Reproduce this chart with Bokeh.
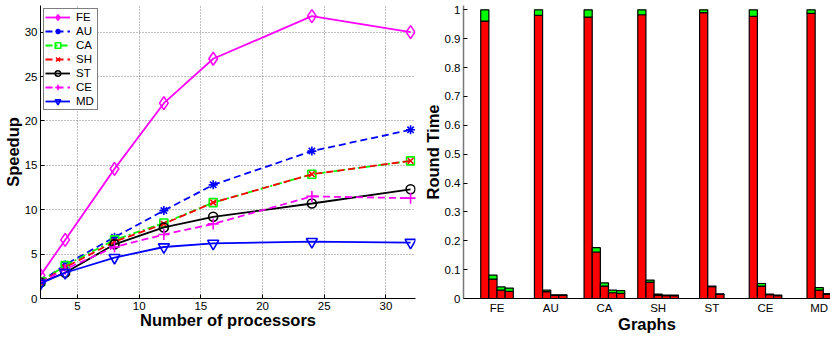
from bokeh.plotting import figure
from bokeh.layouts import row
from bokeh.models import FixedTicker, Legend, LegendItem, Label, CustomJSTickFormatter
from bokeh.embed import file_html
from bokeh.resources import INLINE

# ---------------- data: panel (a) speedup ----------------
procs = [2, 4, 8, 12, 16, 24, 32]
speedup_FE = [2.6, 6.6, 14.6, 22.0, 27.0, 31.8, 30.0]
speedup_AU = [1.9, 3.8, 6.9, 9.9, 12.8, 16.6, 19.0]
speedup_CA = [1.9, 3.7, 6.6, 8.5, 10.8, 14.0, 15.5]
speedup_SH = [1.8, 3.5, 6.4, 8.4, 10.8, 14.0, 15.5]
speedup_ST = [1.8, 2.9, 6.1, 8.0, 9.2, 10.7, 12.3]
speedup_CE = [1.8, 3.3, 5.8, 7.2, 8.4, 11.5, 11.3]
speedup_MD = [1.7, 2.9, 4.6, 5.8, 6.2, 6.4, 6.3]
x_ticks_a = [5, 10, 15, 20, 25, 30]
y_ticks_a = [0, 5, 10, 15, 20, 25, 30]

# ---------------- data: panel (b) round time ----------------
graphs = ["FE", "AU", "CA", "SH", "ST", "CE", "MD"]
red_FE = [0.961, 0.067, 0.029, 0.025]
green_FE = [0.039, 0.014, 0.011, 0.011]
red_AU = [0.981, 0.024, 0.011, 0.011]
green_AU = [0.019, 0.005, 0.002, 0.002]
red_CA = [0.975, 0.161, 0.043, 0.020, 0.018]
green_CA = [0.025, 0.015, 0.011, 0.009, 0.009]
red_SH = [0.983, 0.057, 0.012, 0.010, 0.010]
green_SH = [0.017, 0.007, 0.003, 0.002, 0.002]
red_ST = [0.990, 0.041, 0.014]
green_ST = [0.010, 0.002, 0.002]
red_CE = [0.977, 0.043, 0.013, 0.010]
green_CE = [0.023, 0.009, 0.002, 0.002]
red_MD = [0.988, 0.029, 0.014]
green_MD = [0.012, 0.009, 0.003]
y_ticks_b = [0, 0.1, 0.2, 0.3, 0.4, 0.5, 0.6, 0.7, 0.8, 0.9, 1.0]

FONT = "Liberation Sans"
TICK_FS = "11.5px"
LABEL_FS = "16.5px"


def style_axis(ax):
    ax.minor_tick_line_color = None
    ax.major_label_text_font = FONT
    ax.major_label_text_font_size = TICK_FS
    ax.major_label_text_color = "black"
    ax.major_label_standoff = 3
    ax.axis_label_text_font = FONT
    ax.axis_label_text_font_style = "bold"
    ax.axis_label_text_font_size = LABEL_FS
    ax.axis_label_text_color = "black"


# ================= panel (a) =================
pa = figure(width=420, height=356, x_range=(2, 32.4), y_range=(0, 33),
            output_backend="svg", toolbar_location=None,
            min_border_left=38, min_border_right=5, min_border_top=5, min_border_bottom=58)
pa.outline_line_color = None

series = [
    ("FE", speedup_FE, "#FF00FF", "solid", "diamond", 13),
    ("AU", speedup_AU, "#0000FF", "7 4", "asterisk", 9),
    ("CA", speedup_CA, "#00FF00", "7 3 2 3", "square", 8),
    ("SH", speedup_SH, "#FF0000", "7 4", "x", 8),
    ("ST", speedup_ST, "#000000", "solid", "circle", 9),
    ("CE", speedup_CE, "#FF00FF", "7 4", "cross", 11),
    ("MD", speedup_MD, "#0000FF", "solid", "inverted_triangle", 11),
]
items = []
for name, vals, color, dash, marker, size in series:
    lr = pa.line(procs, vals, line_color=color, line_width=1.8, line_dash=dash)
    sr = pa.scatter(procs, vals, marker=marker, size=size, line_color=color,
                    line_width=1.6, fill_color=None)
    items.append(LegendItem(label=name, renderers=[lr, sr]))

legend = Legend(items=items, location="top_left", border_line_color="black",
                border_line_width=1, padding=1, spacing=0, margin=3,
                glyph_width=25, glyph_height=14, label_height=14, label_standoff=6,
                label_text_font=FONT, label_text_font_size=TICK_FS,
                label_text_color="black",
                background_fill_color="white", background_fill_alpha=1)
pa.add_layout(legend)

for ax in (pa.xaxis[0], pa.yaxis[0]):
    style_axis(ax)
    ax.axis_line_color = "black"
    ax.major_tick_in = 4
    ax.major_tick_out = 0
    ax.major_tick_line_color = "black"
pa.xaxis[0].axis_label_standoff = -2
pa.yaxis[0].axis_label_standoff = 0
pa.xaxis[0].ticker = FixedTicker(ticks=x_ticks_a)
pa.yaxis[0].ticker = FixedTicker(ticks=y_ticks_a)
pa.xaxis[0].axis_label = "Number of processors"
pa.yaxis[0].axis_label = "Speedup"
for g in (pa.xgrid[0], pa.ygrid[0]):
    g.grid_line_color = "#808080"
    g.grid_line_dash = "1 2"
    g.grid_line_width = 1

pa.add_layout(Label(x=15.48, y=-5.07, text="(a)", text_align="center", text_baseline="top",
                    text_font="Liberation Serif", text_font_size="22px", text_color="black"))

# ================= panel (b) =================
pb = figure(width=410, height=356, x_range=(0.376, 7.21), y_range=(0, 1.015),
            output_backend="svg", toolbar_location=None,
            min_border_left=43, min_border_right=0, min_border_top=5, min_border_bottom=58)
pb.outline_line_color = None
pb.xgrid.grid_line_color = None
pb.ygrid.grid_line_color = None

reds = [red_FE, red_AU, red_CA, red_SH, red_ST, red_CE, red_MD]
greens = [green_FE, green_AU, green_CA, green_SH, green_ST, green_CE, green_MD]
bw = 0.1515
xs, r_top, g_top = [], [], []
for gi, (rv, gv) in enumerate(zip(reds, greens)):
    n = len(rv)
    for i in range(n):
        xs.append(gi + 1 + (i - (n - 1) / 2) * bw)
        r_top.append(rv[i])
        g_top.append(rv[i] + gv[i])

pb.vbar(x=xs, width=bw, bottom=0, top=r_top, fill_color="#FF0000", line_color="black", line_width=1.2)
pb.vbar(x=xs, width=bw, bottom=r_top, top=g_top, fill_color="#00FF00", line_color="black", line_width=1.2)

xa, ya = pb.xaxis[0], pb.yaxis[0]
style_axis(xa)
style_axis(ya)
xa.axis_label_standoff = -2
ya.axis_label_standoff = 0
xa.axis_line_color = "black"
xa.major_tick_in = 0
xa.major_tick_out = 0
xa.ticker = FixedTicker(ticks=list(range(1, len(graphs) + 1)))
xa.major_label_overrides = {i + 1: g for i, g in enumerate(graphs)}
xa.axis_label = "Graphs"
ya.axis_label = "Round Time"
ya.axis_line_color = "#777777"
ya.axis_line_width = 1.5
ya.major_tick_in = 4
ya.major_tick_out = 0
ya.major_tick_line_color = "black"
ya.ticker = FixedTicker(ticks=y_ticks_b)
ya.formatter = CustomJSTickFormatter(code="return tick.toFixed(1).replace(/\\.0$/, '');")

pb.add_layout(Label(x=3.43, y=-0.156, text="(b)", text_align="center", text_baseline="top",
                    text_font="Liberation Serif", text_font_size="22px", text_color="black"))

layout = row(pa, pb)
open("out.html", "w").write(file_html(layout, INLINE))
